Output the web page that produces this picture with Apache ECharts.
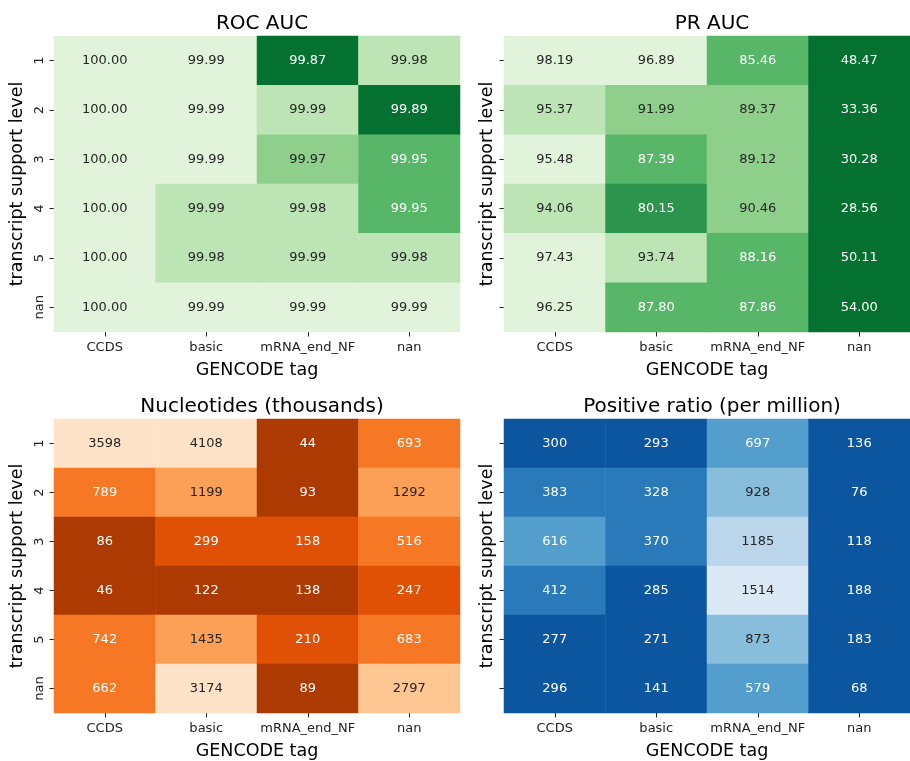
<!DOCTYPE html>
<html>
<head>
<meta charset="utf-8">
<script src="https://cdn.jsdelivr.net/npm/echarts@6/dist/echarts.min.js"></script>
<style>
html,body{margin:0;padding:0;background:#fff;}
#chart{width:910px;height:761px;}
</style>
</head>
<body>
<div id="chart"></div>
<script>
// ---- data ----
const gencodeTags = ['CCDS', 'basic', 'mRNA_end_NF', 'nan'];
const supportLevels = ['1', '2', '3', '4', '5', 'nan'];

const titles = ['ROC AUC', 'PR AUC', 'Nucleotides (thousands)', 'Positive ratio (per million)'];

// rows follow supportLevels, columns follow gencodeTags
const rocAuc = [
  [100.00, 99.993, 99.87, 99.98],
  [100.00, 99.993, 99.987, 99.89],
  [100.00, 99.993, 99.97, 99.95],
  [100.00, 99.987, 99.98, 99.95],
  [100.00, 99.98, 99.986, 99.98],
  [100.00, 99.993, 99.993, 99.993]
];
const prAuc = [
  [98.19, 96.89, 85.46, 48.47],
  [95.37, 91.99, 89.37, 33.36],
  [95.48, 87.39, 89.12, 30.28],
  [94.06, 80.15, 90.46, 28.56],
  [97.43, 93.74, 88.16, 50.11],
  [96.25, 87.80, 87.86, 54.00]
];
const nucleotides = [
  [3598, 4108, 44, 693],
  [789, 1199, 93, 1292],
  [86, 299, 158, 516],
  [46, 122, 138, 247],
  [742, 1435, 210, 683],
  [662, 3174, 89, 2797]
];
const positiveRatio = [
  [300, 293, 697, 136],
  [383, 328, 928, 76],
  [616, 370, 1185, 118],
  [412, 285, 1514, 188],
  [277, 271, 873, 183],
  [296, 141, 579, 68]
];

// colour bin edges (6 discrete levels, dark -> light)
const rocEdges = [99.90, 99.93, 99.96, 99.975, 99.99];
const prEdges = [60, 83, 88.6, 92.5, 95.4];
const nucEdges = [150, 400, 1000, 2000, 3000];
const posEdges = [315, 500, 800, 1050, 1350];

// ---- styles ----
const greens = ['#057130', '#2c944c', '#57b668', '#8ed08b', '#bce4b5', '#e1f3db'];
const oranges = ['#ad3903', '#e05106', '#f67825', '#fda057', '#fdc692', '#fee3c8'];
const blues = ['#0c56a0', '#2a7aba', '#549ecd', '#88bedc', '#bbd6eb', '#dbe9f6'];
const FONT = 'DejaVu Sans';

const panels = [
  {data: rocAuc, edges: rocEdges, colors: greens, dec: 2},
  {data: prAuc, edges: prEdges, colors: greens, dec: 2},
  {data: nucleotides, edges: nucEdges, colors: oranges, dec: 0},
  {data: positiveRatio, edges: posEdges, colors: blues, dec: 0}
];

const gridPos = [
  {left: 54, top: 36, width: 406, height: 296},
  {left: 504, top: 36, width: 406, height: 296},
  {left: 54, top: 419, width: 406, height: 297},
  {left: 504, top: 419, width: 406, height: 297}
];
const titlePos = [
  {left: 257, top: 9},
  {left: 707, top: 9},
  {left: 257, top: 392},
  {left: 707, top: 392}
];

function binIndex(v, edges) {
  let i = 0;
  while (i < edges.length && v >= edges[i]) i++;
  return i;
}
function pieces(edges, colors) {
  const p = [];
  for (let i = 0; i <= edges.length; i++) {
    const o = {color: colors[i]};
    if (i > 0) o.gte = edges[i - 1];
    if (i < edges.length) o.lt = edges[i];
    p.push(o);
  }
  return p;
}

const option = {
  backgroundColor: '#fff',
  animation: false,
  title: [], grid: [], xAxis: [], yAxis: [], visualMap: [], series: []
};

panels.forEach((pn, k) => {
  option.title.push({
    text: titles[k], left: titlePos[k].left, top: titlePos[k].top, textAlign: 'center',
    textStyle: {fontFamily: FONT, fontSize: 20, fontWeight: 'normal', color: '#000'}
  });
  option.grid.push(Object.assign({containLabel: false}, gridPos[k]));
  option.xAxis.push({
    type: 'category', gridIndex: k, data: gencodeTags,
    name: 'GENCODE tag', nameLocation: 'middle', nameGap: 29,
    nameTextStyle: {fontFamily: FONT, fontSize: 17.5, color: '#000'},
    axisLine: {show: false},
    axisTick: {show: true, alignWithLabel: true, interval: 0, length: 4.5, lineStyle: {color: '#222', width: 1}},
    axisLabel: {interval: 0, fontFamily: FONT, fontSize: 13, color: '#222', margin: 9},
    splitLine: {show: false}
  });
  const right = (k % 2 === 1);
  option.yAxis.push({
    type: 'category', gridIndex: k, data: supportLevels, inverse: true,
    name: 'transcript support level', nameLocation: 'middle', nameRotate: 90,
    nameGap: right ? 8 : 28,
    nameTextStyle: {fontFamily: FONT, fontSize: 17.5, color: '#000'},
    axisLine: {show: false},
    axisTick: {show: true, alignWithLabel: true, interval: 0, length: 4.5, lineStyle: {color: '#222', width: 1}},
    axisLabel: {show: !right, interval: 0, rotate: 90, fontFamily: FONT, fontSize: 13, color: '#222', margin: 8},
    splitLine: {show: false}
  });
  option.visualMap.push({
    type: 'piecewise', show: false, seriesIndex: k, dimension: 2,
    pieces: pieces(pn.edges, pn.colors)
  });
  const items = [];
  pn.data.forEach((row, yi) => {
    row.forEach((v, xi) => {
      const b = binIndex(v, pn.edges);
      items.push({
        value: [xi, yi, v],
        label: {color: b <= 2 ? '#ffffff' : '#262626'}
      });
    });
  });
  option.series.push({
    type: 'heatmap', xAxisIndex: k, yAxisIndex: k, data: items,
    itemStyle: {borderWidth: 0},
    emphasis: {disabled: true},
    label: {
      show: true, fontFamily: FONT, fontSize: 13,
      formatter: (p) => p.value[2].toFixed(pn.dec)
    }
  });
});

const chart = echarts.init(document.getElementById('chart'), null, {renderer: 'canvas'});
chart.setOption(option);
</script>
</body>
</html>
